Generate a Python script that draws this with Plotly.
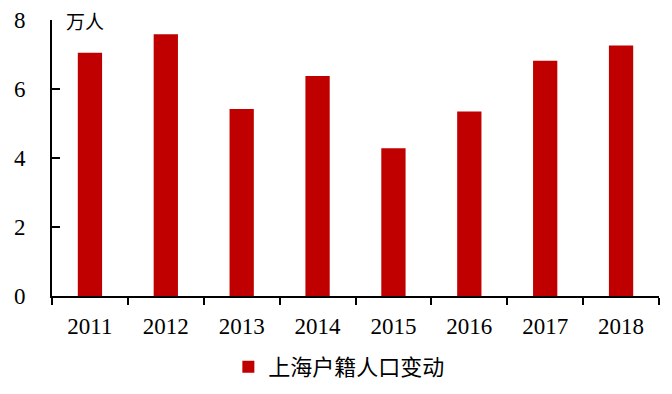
import plotly.graph_objects as go

years = ["2011", "2012", "2013", "2014", "2015", "2016", "2017", "2018"]
values = [7.05, 7.59, 5.42, 6.38, 4.28, 5.35, 6.82, 7.26]
series_name = "上海户籍人口变动"
unit_label = "万人"

fig = go.Figure()
fig.add_trace(go.Bar(
    x=years, y=values, name=series_name,
    marker=dict(color="#C00000", line=dict(width=0)),
    width=0.32,
))

fig.update_layout(
    width=672, height=394,
    margin=dict(l=52, r=13, t=20, b=98),
    plot_bgcolor="white", paper_bgcolor="white",
    font=dict(family="Liberation Serif, Times New Roman, serif", size=23, color="black"),
    showlegend=True,
    legend=dict(orientation="h", xref="container", yref="container",
                x=0.505, xanchor="center", y=1 - 367 / 394, yanchor="middle",
                font=dict(family="Noto Sans CJK SC", size=22), itemwidth=30),
)
fig.update_xaxes(
    showline=True, linecolor="black", linewidth=2, automargin=False,
    ticks="outside", ticklen=7, tickwidth=2, tickcolor="black",
    tickson="boundaries", showgrid=False, ticklabelstandoff=8,
    tickfont=dict(size=23),
)
fig.update_yaxes(
    range=[0, 8], dtick=2, showline=True, linecolor="black", linewidth=2, automargin=False,
    ticks="inside", ticklen=8, tickwidth=2, tickcolor="black",
    showgrid=False, zeroline=False, ticklabelstandoff=20,
    tickfont=dict(size=23),
)
fig.add_annotation(
    text=unit_label, xref="paper", yref="paper", x=0.02, y=1.0,
    xanchor="left", yanchor="middle", showarrow=False,
    font=dict(family="Noto Sans CJK SC", size=19, color="black"),
)
fig.write_html("out.html")
